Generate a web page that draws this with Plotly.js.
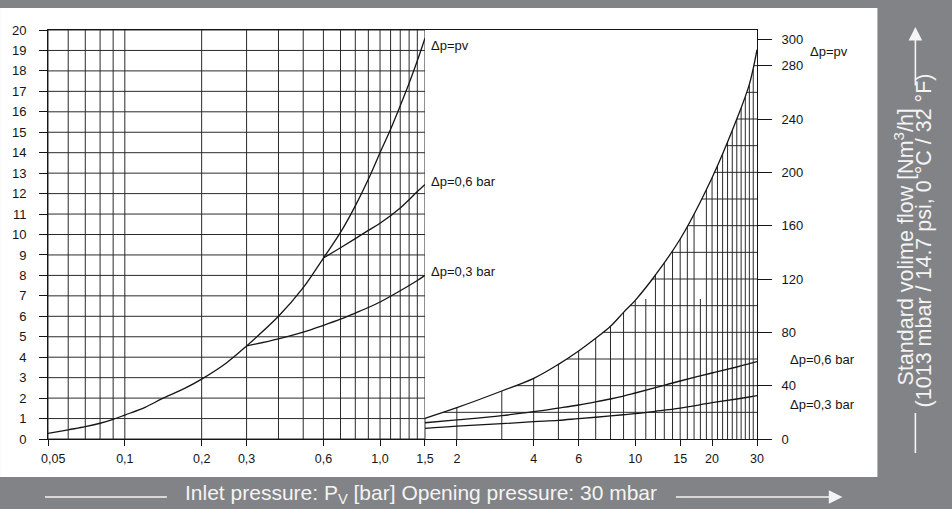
<!DOCTYPE html>
<html><head><meta charset="utf-8">
<script src="https://cdn.plot.ly/plotly-3.0.1.min.js"></script>
<style>html,body{margin:0;padding:0;background:#828386;}#chart{width:952px;height:509px;}</style>
</head><body><div id="chart"></div>
<script>
// ---- Left panel data (left axis, 0–20) ----
const leftPvX = [0.05,0.06,0.07,0.08,0.09,0.1,0.12,0.14,0.17,0.2,0.25,0.3,0.4,0.5,0.6,0.7,0.8,0.9,1.0,1.1,1.2,1.3,1.4,1.5];
const leftPvY = [0.27,0.45,0.6,0.77,0.96,1.17,1.55,1.97,2.45,2.93,3.72,4.55,6.0,7.4,8.85,10.1,11.4,12.7,14.0,15.15,16.3,17.4,18.5,19.6];
const left06X = [0.6,0.7,0.8,0.9,1.0,1.2,1.4,1.5];
const left06Y = [8.85,9.35,9.8,10.2,10.55,11.3,12.1,12.45];
const left03X = [0.3,0.4,0.5,0.6,0.7,0.8,0.9,1.0,1.2,1.4,1.5];
const left03Y = [4.55,4.9,5.23,5.56,5.86,6.16,6.43,6.7,7.25,7.75,8.0];

// ---- Right panel data (right axis, Nm3/h) ----
const rightX   = [1.5,2,3,4,5,6,7,8,9,10,12,15,20,25,28,30];
const rightPvY = [15.5,23.5,36,45.5,56,66,75.5,84.5,95,104,123,150,196,240,266,292];
const right06Y = [12.2,14.3,17.5,20.5,23.2,25.5,27.8,30,32.2,34.5,38.5,43.5,49.5,54,56.5,58];
const right03Y = [8.0,9.7,11.5,13,14,15.3,16.3,17.3,18.2,19,20.8,23.2,27.2,30,31.5,32.5];

// ---- Ticks / grid ----
const xTickVals = [0.05,0.1,0.2,0.3,0.6,1,1.5,2,4,6,10,15,20,30];
const xTickText = ['\u00a0\u00a0\u00a00,05','0,1','0,2','0,3','0,6','1,0','1,5','2','4','6','10','15','20','30'];
const leftYTicks = [0,1,2,3,4,5,6,7,8,9,10,11,12,13,14,15,16,17,18,19,20];
const rightYTicks = [0,40,80,120,160,200,240,280,300];
const leftGridX = [0.05,0.06,0.07,0.08,0.09,0.1,0.2,0.3,0.4,0.5,0.6,0.7,0.8,0.9,1.0,1.1,1.2,1.3,1.4];
const leftBorderX = [1.5];
const rightGridX = [2,3,4,5,6,7,8,9,10,12,13,14,15,16,17,19,20,21,22,23,24,25,26,27,28,29];
const rightShortGridX = [11,18];
const rightShortTop = 105;
const rightGridY = [20,40,60,80,100,120,140,160,180,200,220,240,260,280];
const labelsLeft = [{t:'Δp=pv', y:19.25},{t:'Δp=0,6 bar', y:12.6},{t:'Δp=0,3 bar', y:8.2}];
const labelsRight = [{t:'Δp=pv', y:290.5, dx:51},{t:'Δp=0,6 bar', y:60, dx:31},{t:'Δp=0,3 bar', y:26, dx:31}];

// ---- Layout geometry ----
const W = 952, H = 509, L = 48, R = 194.5, T = 30, B = 70;
const PW = W - L - R, PH = H - T - B;
const Y2MAX = 306.75, YMAX = 20;
const px = v => (v - L) / PW;
const py = v => (T + PH - v) / PH;
const INK = '#151515', GRID = '#2a2a2a';
const FONT = 'Liberation Sans, Arial, Helvetica, sans-serif';

function vSegs(xs, y0, y1) { const x=[],y=[]; xs.forEach(v=>{x.push(v,v,null);y.push(y0,y1,null);}); return {x,y}; }
function hSegs(ys, x0, x1) { const x=[],y=[]; ys.forEach(v=>{x.push(x0,x1,null);y.push(v,v,null);}); return {x,y}; }
const gridLine = {color: GRID, width: 1};
const curveLine = {color:INK, width:1.3, shape:'spline', smoothing:1};

const rv = vSegs(rightGridX, 0, Y2MAX);
const rvs = vSegs(rightShortGridX, 0, rightShortTop);
const rh = hSegs(rightGridY, rightX[0], rightX[rightX.length-1]);
const lv = vSegs(leftGridX.concat(leftBorderX), 0, YMAX);
const lh = hSegs(leftYTicks, leftGridX[0], leftBorderX[0]);

const traces = [
  {x: rv.x, y: rv.y, yaxis:'y2', mode:'lines', line: gridLine, hoverinfo:'skip'},
  {x: rvs.x, y: rvs.y, yaxis:'y2', mode:'lines', line: gridLine, hoverinfo:'skip'},
  {x: rh.x, y: rh.y, yaxis:'y2', mode:'lines', line: gridLine, hoverinfo:'skip'},
  // white mask above the pv curve on the right panel
  {x: rightX, y: rightPvY, yaxis:'y2', mode:'lines', line:{width:0, shape:'spline', smoothing:1}, hoverinfo:'skip'},
  {x: [rightX[0], rightX[rightX.length-1]], y: [Y2MAX, Y2MAX], yaxis:'y2', mode:'lines', line:{width:0}, fill:'tonexty', fillcolor:'#ffffff', hoverinfo:'skip'},
  {x: lv.x, y: lv.y, mode:'lines', line: gridLine, hoverinfo:'skip'},
  {x: lh.x, y: lh.y, mode:'lines', line: gridLine, hoverinfo:'skip'},
  // curves
  {x: leftPvX, y: leftPvY, mode:'lines', line: curveLine},
  {x: left06X, y: left06Y, mode:'lines', line: curveLine},
  {x: left03X, y: left03Y, mode:'lines', line: curveLine},
  {x: rightX, y: rightPvY, yaxis:'y2', mode:'lines', line: curveLine},
  {x: rightX, y: right06Y, yaxis:'y2', mode:'lines', line: curveLine},
  {x: rightX, y: right03Y, yaxis:'y2', mode:'lines', line: curveLine}
];

const annFont = {family: FONT, size: 13, color: INK};
const annotations = [];
labelsLeft.forEach(l => annotations.push({x: Math.log10(1.5), y: l.y, xref:'x', yref:'y', text: l.t, showarrow:false, xanchor:'left', yanchor:'middle', xshift: 4, font: annFont}));
labelsRight.forEach(l => annotations.push({x: Math.log10(30), y: l.y, xref:'x', yref:'y2', text: l.t, showarrow:false, xanchor:'left', yanchor:'middle', xshift: l.dx, font: annFont}));
const white = '#f4f4f4';
annotations.push({xref:'paper', yref:'paper', x: px(421), y: py(494), text:'Inlet pressure: P<sub>V</sub> [bar] Opening pressure: 30 mbar', showarrow:false, xanchor:'center', yanchor:'middle', font:{family:FONT, size:21, color:white}});
annotations.push({xref:'paper', yref:'paper', x: px(843), y: py(497), ax: -168, ay: 0, text:'', showarrow:true, arrowhead:2, arrowsize:1.7, arrowwidth:1.6, arrowcolor:white});
annotations.push({xref:'paper', yref:'paper', x: px(905), y: py(247), text:'Standard volime flow [Nm<sup>3</sup>/h]', textangle:-90, showarrow:false, xanchor:'center', yanchor:'middle', font:{family:FONT, size:21.5, color:white}});
annotations.push({xref:'paper', yref:'paper', x: px(925), y: py(240), text:'(1013 mbar / 14.7 psi, 0 °C / 32 °F)', textangle:-90, showarrow:false, xanchor:'center', yanchor:'middle', font:{family:FONT, size:21.5, color:white}});
annotations.push({xref:'paper', yref:'paper', x: px(916), y: py(27), ax: 0, ay: 60, text:'', showarrow:true, arrowhead:2, arrowsize:1.7, arrowwidth:1.6, arrowcolor:white});

const shapes = [
  {type:'rect', xref:'paper', yref:'paper', x0: px(0), x1: px(878), y0: py(477), y1: py(8), fillcolor:'#ffffff', line:{width:0}, layer:'below'},
  {type:'line', xref:'paper', yref:'paper', x0: px(45), x1: px(167), y0: py(497), y1: py(497), line:{color:white, width:1.6}},
  {type:'line', xref:'paper', yref:'paper', x0: px(916), x1: px(916), y0: py(413), y1: py(453), line:{color:white, width:1.6}}
];

const tickFont = {family: FONT, size: 13, color: INK};
const layout = {
  width: W, height: H,
  margin: {l: L, r: R, t: T, b: B, pad: 0},
  paper_bgcolor: '#828386', plot_bgcolor: '#ffffff',
  showlegend: false,
  xaxis: {type:'log', range:[Math.log10(0.05), Math.log10(30)], tickvals: xTickVals, ticktext: xTickText,
          ticks:'outside', ticklen:6, tickcolor:INK, tickwidth:1, showline:true, linecolor:INK, linewidth:1, mirror:true,
          showgrid:false, zeroline:false, tickfont:{family:FONT, size:12.5, color:INK}, ticklabelstandoff: 2, fixedrange:true},
  yaxis: {range:[0, YMAX], tickvals: leftYTicks, ticks:'outside', ticklen:8, tickcolor:INK, tickwidth:1,
          showline:true, linecolor:INK, linewidth:1, showgrid:false, zeroline:false, tickfont: tickFont, ticklabelstandoff: 10, fixedrange:true},
  yaxis2: {range:[0, Y2MAX], overlaying:'y', side:'right', tickvals: rightYTicks, ticks:'outside', ticklen:14, tickcolor:INK, tickwidth:1,
          showline:true, linecolor:INK, linewidth:1, showgrid:false, zeroline:false, tickfont: tickFont, ticklabelstandoff: 7, fixedrange:true},
  annotations, shapes
};
Plotly.newPlot('chart', traces, layout, {displayModeBar:false, staticPlot:true});
</script></body></html>
